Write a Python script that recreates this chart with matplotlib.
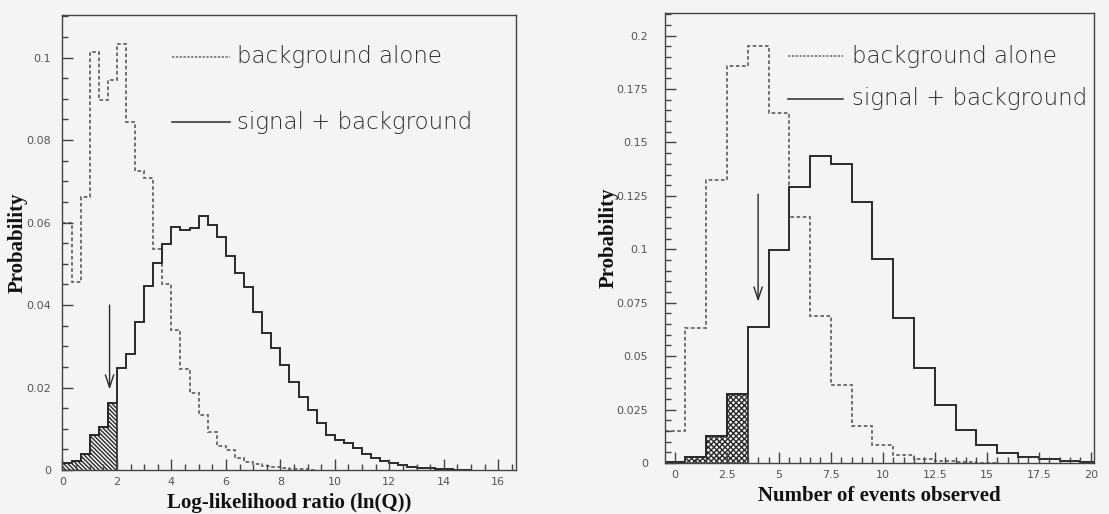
import numpy as np
import matplotlib
matplotlib.use("Agg")
import matplotlib.pyplot as plt
from matplotlib.ticker import MultipleLocator
from matplotlib.lines import Line2D

# ---------------- data ----------------
# Left panel: log-likelihood ratio, bins of width 1/3 starting at 0
llr_bin_width = 1.0 / 3.0
bg_llr = [0.0600, 0.0456, 0.0662, 0.1014, 0.0897, 0.0945, 0.1034, 0.0844, 0.0725,
          0.0708, 0.0537, 0.0452, 0.0339, 0.0244, 0.0186, 0.0133, 0.0093, 0.0057,
          0.0048, 0.0028, 0.0020, 0.0014, 0.0010, 0.0008, 0.0005, 0.0003, 0.0002,
          0.0001]
sb_llr = [0.0017, 0.0022, 0.0039, 0.0084, 0.0104, 0.0163, 0.0248, 0.0281, 0.0360,
          0.0447, 0.0502, 0.0547, 0.0590, 0.0582, 0.0586, 0.0616, 0.0595, 0.0564,
          0.0519, 0.0478, 0.0444, 0.0382, 0.0333, 0.0295, 0.0254, 0.0214, 0.0178,
          0.0145, 0.0115, 0.0085, 0.0073, 0.0065, 0.0053, 0.0039, 0.0030, 0.0022,
          0.0016, 0.0012, 0.0008, 0.0006, 0.0004, 0.0003, 0.0002, 0.0001, 0.0001]
llr_observed = 1.73
llr_shade_bins = 6

# Right panel: number of events, integer bins
bg_n = [0.0148, 0.0630, 0.1325, 0.1860, 0.1950, 0.1640, 0.1150, 0.0690, 0.0367,
        0.0175, 0.0083, 0.0039, 0.0019, 0.0008, 0.0003, 0.0001]
sb_n = [0.0003, 0.0030, 0.0125, 0.0325, 0.0636, 0.0997, 0.1290, 0.1437, 0.1400,
        0.1220, 0.0953, 0.0680, 0.0445, 0.0273, 0.0156, 0.0082, 0.0045, 0.0028,
        0.0017, 0.0011, 0.0006]
n_observed = 4
n_shade_bins = 4

legend_labels = ["background alone", "signal + background"]
ylabel = "Probability"
xlabel_left = "Log-likelihood ratio (ln(Q))"
xlabel_right = "Number of events observed"

# ---------------- style ----------------
BG = "#f4f4f4"
INK = "#2a2a2a"
DASH_C = "#666666"
TICK_C = "#555555"
sans = ["DejaVu Sans"]
serif = ["Liberation Serif", "DejaVu Serif"]
plt.rcParams["hatch.linewidth"] = 1.0
plt.rcParams["hatch.color"] = INK

fig = plt.figure(figsize=(11.09, 5.14), dpi=100, facecolor=BG)

axL = fig.add_axes([0.0563, 0.0856, 0.4094, 0.885])
axR = fig.add_axes([0.5996, 0.0992, 0.3868, 0.8755])


def g_fmt(x, pos):
    return "%g" % x


def style_axes(ax, xmaj, xmin, ymaj, ymin):
    ax.set_facecolor(BG)
    for s in ax.spines.values():
        s.set_color("#444444")
        s.set_linewidth(1.0)
    ax.xaxis.set_major_locator(MultipleLocator(xmaj))
    ax.xaxis.set_minor_locator(MultipleLocator(xmin))
    ax.yaxis.set_major_locator(MultipleLocator(ymaj))
    ax.yaxis.set_minor_locator(MultipleLocator(ymin))
    ax.yaxis.set_major_formatter(plt.FuncFormatter(g_fmt))
    ax.xaxis.set_major_formatter(plt.FuncFormatter(g_fmt))
    ax.tick_params(which="both", direction="in", top=False, right=False,
                   color="#444444", width=1.0)
    ax.tick_params(which="major", length=8, labelsize=8, labelcolor=TICK_C)
    ax.tick_params(which="minor", length=4.5)
    for lab in ax.get_xticklabels() + ax.get_yticklabels():
        lab.set_family(sans)


def legend(ax, x0, x1, xt, y_bg, y_sb):
    ax.add_line(Line2D([x0, x1], [y_bg, y_bg], transform=ax.transAxes,
                       color=DASH_C, lw=1.1, linestyle=(0, (1.5, 1.0))))
    ax.add_line(Line2D([x0, x1], [y_sb, y_sb], transform=ax.transAxes,
                       color=INK, lw=1.1))
    for y, lab in zip([y_bg, y_sb], legend_labels):
        ax.text(xt, y, lab, transform=ax.transAxes, va="center", ha="left",
                family=sans, fontsize=16.5, fontweight="light", color="#2e2e2e")


# ---------- Left panel ----------
edges_bg = np.arange(len(bg_llr) + 1) * llr_bin_width
edges_sb = np.arange(len(sb_llr) + 1) * llr_bin_width
axL.stairs(bg_llr, edges_bg, color=DASH_C, lw=1.3, linestyle=(0, (2.0, 1.4)),
           baseline=None)
axL.stairs(sb_llr, edges_sb, color=INK, lw=1.4, baseline=None)
axL.stairs(sb_llr[:llr_shade_bins], edges_sb[:llr_shade_bins + 1], fill=True,
           facecolor="none", edgecolor=INK, hatch="\\\\\\\\\\\\\\\\", lw=0)
axL.stairs(sb_llr[:llr_shade_bins], edges_sb[:llr_shade_bins + 1], color=INK,
           lw=1.2, baseline=0)
axL.set_xlim(0, 50 * llr_bin_width)
axL.set_ylim(0, 0.1103)
style_axes(axL, 2, 0.5, 0.02, 0.005)
axL.tick_params(axis="y", pad=8)
axL.tick_params(axis="x", pad=5)
axL.annotate("", xy=(llr_observed, 0.0195), xytext=(llr_observed, 0.0400),
             arrowprops=dict(arrowstyle="->,head_length=0.9,head_width=0.3",
                             color=INK, lw=1.0, shrinkA=0, shrinkB=0))
axL.set_xlabel(xlabel_left, family=serif, fontweight="bold", fontsize=15,
               color="#111111")
axL.set_ylabel(ylabel, family=serif, fontweight="bold", fontsize=15,
               color="#111111")
axL.xaxis.set_label_coords(0.5, -0.05)
axL.yaxis.set_label_coords(-0.076, 0.5)
legend(axL, 0.242, 0.369, 0.385, 0.908, 0.765)

# ---------- Right panel ----------
n_edges_bg = np.arange(len(bg_n) + 1) - 0.5
n_edges_sb = np.arange(len(sb_n) + 1) - 0.5
axR.stairs(bg_n, n_edges_bg, color=DASH_C, lw=1.3, linestyle=(0, (2.0, 1.4)),
           baseline=None)
axR.stairs(sb_n, n_edges_sb, color=INK, lw=1.4, baseline=None)
axR.stairs(sb_n[:n_shade_bins], n_edges_sb[:n_shade_bins + 1], fill=True,
           facecolor="none", edgecolor=INK, hatch="xxxxxx", lw=0)
axR.stairs(sb_n[:n_shade_bins], n_edges_sb[:n_shade_bins + 1], color=INK,
           lw=1.2, baseline=0)
axR.set_xlim(-0.48, 20.15)
axR.set_ylim(0, 0.2106)
style_axes(axR, 2.5, 0.5, 0.025, 0.005)
axR.tick_params(axis="y", pad=12)
axR.tick_params(axis="x", pad=5)
axR.annotate("", xy=(n_observed, 0.0755), xytext=(n_observed, 0.1258),
             arrowprops=dict(arrowstyle="->,head_length=0.9,head_width=0.3",
                             color=INK, lw=1.0, shrinkA=0, shrinkB=0))
axR.set_xlabel(xlabel_right, family=serif, fontweight="bold", fontsize=15,
               color="#111111")
axR.set_ylabel(ylabel, family=serif, fontweight="bold", fontsize=15,
               color="#111111")
axR.xaxis.set_label_coords(0.5, -0.05)
axR.yaxis.set_label_coords(-0.107, 0.5)
legend(axR, 0.287, 0.415, 0.436, 0.904, 0.809)

fig.savefig("out.png", dpi=100, facecolor=BG)
